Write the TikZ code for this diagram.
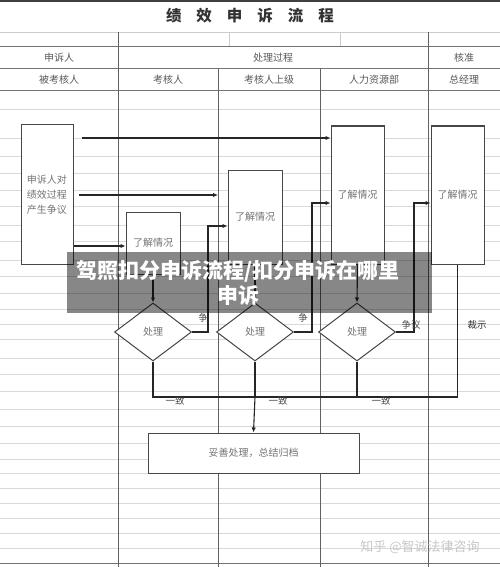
\documentclass[tikz,border=0pt]{standalone}
\usepackage{fontspec}
\setmainfont{Noto Sans CJK SC}
\usetikzlibrary{shapes.geometric,arrows.meta}
\begin{document}
\begin{tikzpicture}[x=1pt,y=-1pt,
  gridline/.style={draw=black!15, line width=0.7pt},
  colline/.style={draw=black!62, line width=1pt},
  hdrline/.style={draw=black!55, line width=1pt},
  lighthdr/.style={draw=black!20, line width=0.8pt},
  hdrtext/.style={text=black!65, font=\fontsize{10}{12}\selectfont, inner sep=0},
  stepbox/.style={draw=black!72, line width=1pt, fill=white, inner sep=0, align=center,
     text=black!55, font=\fontsize{10}{15}\selectfont},
  decision/.style={diamond, draw=black!72, line width=1pt, fill=white, inner sep=0,
     minimum width=77pt, minimum height=58pt, text=black!55, font=\fontsize{10}{12}\selectfont},
  conn/.style={draw=black!85, line width=1.1pt},
  arr/.style={conn, -{Latex[length=5pt,width=4.5pt]}},
  lbl/.style={text=black!70, font=\fontsize{9.5}{11}\selectfont, inner sep=0}
]
\useasboundingbox (0,0) rectangle (500,567);
\fill[white] (0,0) rectangle (500,567);
% spreadsheet grid
\foreach \yy in {109,138,156,173,190,206,225,241,260,276,293,309,324,339,358,374,391,409,426,443,459,473,488,503,518,533,548}
  \draw[gridline] (0,\yy) -- (500,\yy);
% header lines
\draw[draw=black!75, line width=2pt] (0,1) -- (500,1);
\draw[lighthdr] (0,32) -- (500,32);
\draw[lighthdr] (229,32) -- (229,47);
\draw[lighthdr] (340,32) -- (340,47);
\draw[hdrline] (0,47) -- (500,47);
\draw[hdrline] (0,69) -- (500,69);
\draw[hdrline] (0,91) -- (500,91);
\draw[hdrline] (0,563) -- (500,563);
% columns
\draw[colline] (118,32) -- (118,567);
\draw[colline] (428,32) -- (428,567);
\draw[colline] (218,69) -- (218,567);
\draw[colline] (320,69) -- (320,567);
% title
\node[text=black!80, font=\fontsize{15.5}{18}\selectfont\bfseries, inner sep=0] (title) at (250,16)
  {绩\hspace{15pt}效\hspace{15pt}申\hspace{15pt}诉\hspace{15pt}流\hspace{15pt}程};
% header texts
\node[hdrtext] (h1) at (59,58) {申诉人};
\node[hdrtext] (h2) at (273,58) {处理过程};
\node[hdrtext] (h3) at (464,58) {核准};
\node[hdrtext] (h4) at (59,80) {被考核人};
\node[hdrtext] (h5) at (168,80) {考核人};
\node[hdrtext] (h6) at (269,80) {考核人上级};
\node[hdrtext] (h7) at (374,80) {人力资源部};
\node[hdrtext] (h8) at (464,80) {总经理};
% boxes
\node[stepbox, minimum width=52pt, minimum height=139pt] (A) at (47,194.5) {申诉人对\\绩效过程\\产生争议};
\node[stepbox, minimum width=54pt, minimum height=62pt] (B) at (153,243) {了解情况};
\node[stepbox, minimum width=54pt, minimum height=94pt] (D) at (255,217) {了解情况};
\node[stepbox, minimum width=53pt, minimum height=138pt] (C) at (357.5,195) {了解情况};
\node[stepbox, minimum width=53pt, minimum height=138pt] (E) at (457.5,195) {了解情况};
\node[stepbox, minimum width=211pt, minimum height=40pt] (F) at (253.5,453) {妥善处理，总结归档};
% decisions
\node[decision] (D1) at (153,332) {处理};
\node[decision] (D2) at (255,332) {处理};
\node[decision] (D3) at (357,332) {处理};
% connectors
\coordinate (a1) at (82,138);
\draw[arr] (a1) -- (a1 -| C.west);
\coordinate (a2) at (79,195);
\coordinate (a2e) at (218,195);
\draw[arr] (a2) -- (a2e);
\draw[arr] (A.east |- 0,246) -- (B.west |- 0,246);
\draw[arr] (B.south) -- (D1.north);
\draw[arr] (D.south) -- (D2.north);
\draw[arr] (C.south) -- (D3.north);
\draw[arr] (D1.east) -- ++(16,0) |- (D.west |- 0,226);
\draw[arr] (D2.east) -- ++(18,0) |- (C.west |- 0,203);
\draw[arr] (D3.east) -- ++(18,0) |- (E.west |- 0,203);
\coordinate (bus) at (255,397);
\draw[conn] (D1.south) |- (bus) -| (E.south);
\draw[conn] (D2.south) -- (bus);
\draw[conn] (D3.south) -- (D3.south |- bus);
\draw[arr] (bus) -- (F.north);
% labels
\node[lbl] (l1) at (203,318) {争};
\node[lbl] (l2) at (303,318) {争};
\node[lbl] (l3) at (411,325) {争议};
\node[lbl] (y1) at (175,401) {一致};
\node[lbl] (y2) at (278,401) {一致};
\node[lbl] (y3) at (381,401) {一致};
\node[lbl, text=black!80] (cs) at (477,325) {裁示};
% watermark
\node[text=black!22, font=\fontsize{13}{15}\selectfont, inner sep=0] (wm) at (420,547) {知乎 @智诚法律咨询};
% banner
\fill[black, opacity=0.47] (67,252) rectangle (432,313);
\node[text=white, font=\fontsize{21}{25}\selectfont\bfseries, align=center, inner sep=0] (bn) at (238,283)
  {驾照扣分申诉流程/扣分申诉在哪里\\申诉};
\end{tikzpicture}
\end{document}
